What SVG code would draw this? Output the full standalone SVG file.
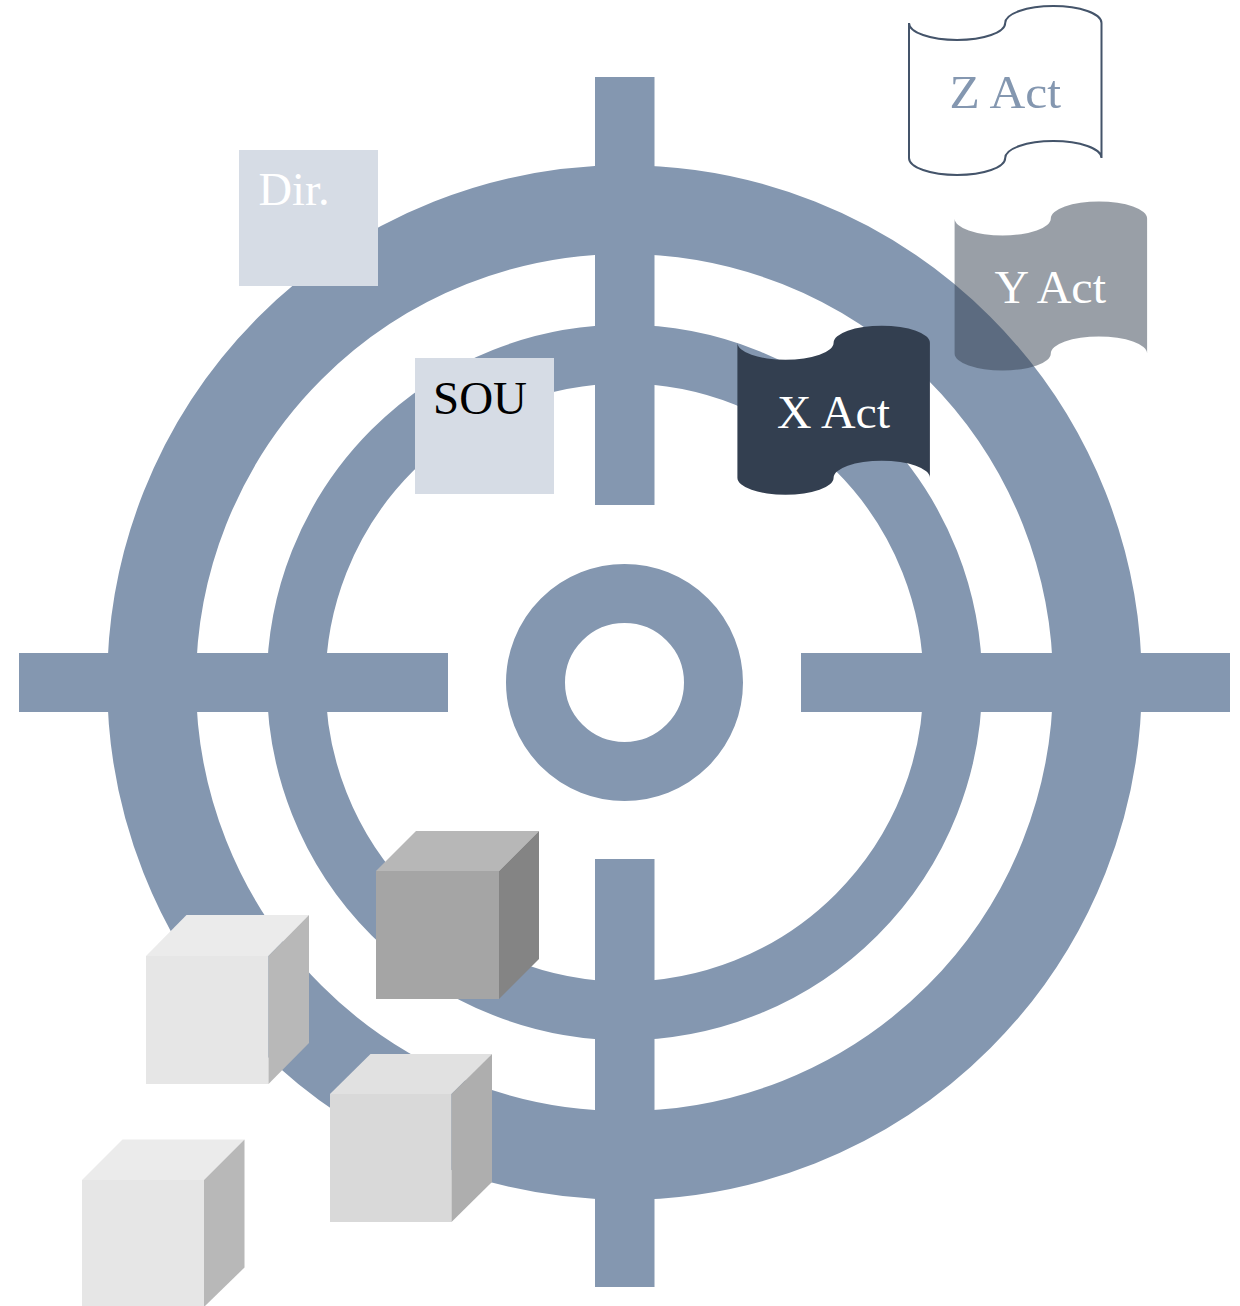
<svg xmlns="http://www.w3.org/2000/svg" width="1240" height="1306" viewBox="0 0 1240 1306">
  <style>
    .ring { fill: none; stroke: #8497b0; }
    .bar { fill: #8497b0; }
    .sq { fill: #d6dce5; }
    .lbl { font-family: "Liberation Serif", "Times New Roman", serif; font-size: 47px; }
    .light-front { fill: #e6e6e6; }
    .light-top { fill: #ebebeb; }
    .light-side { fill: #b8b8b8; }
  </style>
  <defs>
    <path id="tape" d="M0 17A48.1 17 0 0 0 96.2 17A48.1 17 0 0 1 192.5 17V152A48.1 17 0 0 0 96.2 152A48.1 17 0 0 1 0 152Z"/>
  </defs>
  <rect width="1240" height="1306" fill="#ffffff"/>

  <g id="target">
    <circle class="ring" cx="624.5" cy="682.5" r="472.9" stroke-width="88.8"/>
    <circle class="ring" cx="624.5" cy="682.5" r="328.3" stroke-width="58.7"/>
    <circle class="ring" cx="624.5" cy="682.5" r="89" stroke-width="59"/>
    <rect class="bar" x="595" y="77" width="59.5" height="428"/>
    <rect class="bar" x="595" y="859" width="59.5" height="428"/>
    <rect class="bar" x="19" y="653" width="429" height="59"/>
    <rect class="bar" x="801" y="653" width="429" height="59"/>
  </g>

  <g id="node-dir">
    <rect class="sq" x="239" y="150" width="139" height="136"/>
    <text class="lbl" x="258.500" y="205" fill="#ffffff" textLength="71" lengthAdjust="spacingAndGlyphs">Dir.</text>
  </g>
  <g id="node-sou">
    <rect class="sq" x="415" y="358" width="139" height="136"/>
    <text class="lbl" x="433" y="414" fill="#000000" textLength="94" lengthAdjust="spacingAndGlyphs">SOU</text>
  </g>

  <g id="node-z-act">
    <use href="#tape" transform="translate(909 6)" fill="#ffffff" stroke="#44546a" stroke-width="2"/>
    <text class="lbl" x="949.500" y="108" fill="#8497b0" textLength="111.500" lengthAdjust="spacingAndGlyphs">Z Act</text>
  </g>
  <g id="node-y-act">
    <use href="#tape" transform="translate(954.6 201.5)" fill="#333f50" fill-opacity="0.5"/>
    <text class="lbl" x="994.500" y="303" fill="#ffffff" textLength="111.500" lengthAdjust="spacingAndGlyphs">Y Act</text>
  </g>
  <g id="node-x-act">
    <use href="#tape" transform="translate(737.4 325.7)" fill="#333f50"/>
    <text class="lbl" x="777" y="428" fill="#ffffff" textLength="113" lengthAdjust="spacingAndGlyphs">X Act</text>
  </g>

  <g id="cube-dark">
    <polygon fill="#a5a5a5" points="376,871 499,871 499,999 376,999"/>
    <polygon fill="#b7b7b7" points="376,871 416,831 539,831 499,871"/>
    <polygon fill="#848484" points="499,871 539,831 539,959 499,999"/>
  </g>
  <g id="cube-left">
    <polygon class="light-front" points="146,956 268.5,956 268.5,1084 146,1084"/>
    <polygon class="light-top" points="146,956 186.500,915 309,915 268.500,956"/>
    <polygon class="light-side" points="268.500,956 309,915 309,1043 268.500,1084"/>
  </g>
  <g id="cube-mid">
    <polygon fill="#d9d9d9" points="330,1094 451.500,1094 451.500,1222 330,1222"/>
    <polygon fill="#e1e1e1" points="330,1094 370.500,1054 492,1054 451.500,1094"/>
    <polygon fill="#aeaeae" points="451.500,1094 492,1054 492,1182 451.500,1222"/>
  </g>
  <g id="cube-bottom">
    <polygon class="light-front" points="82,1180 204,1180 204,1306 82,1306"/>
    <polygon class="light-top" points="82,1180 122.500,1139.500 244.500,1139.500 204,1180"/>
    <polygon class="light-side" points="204,1180 244.500,1139.500 244.500,1267.500 205,1306 204,1306"/>
  </g>
</svg>
